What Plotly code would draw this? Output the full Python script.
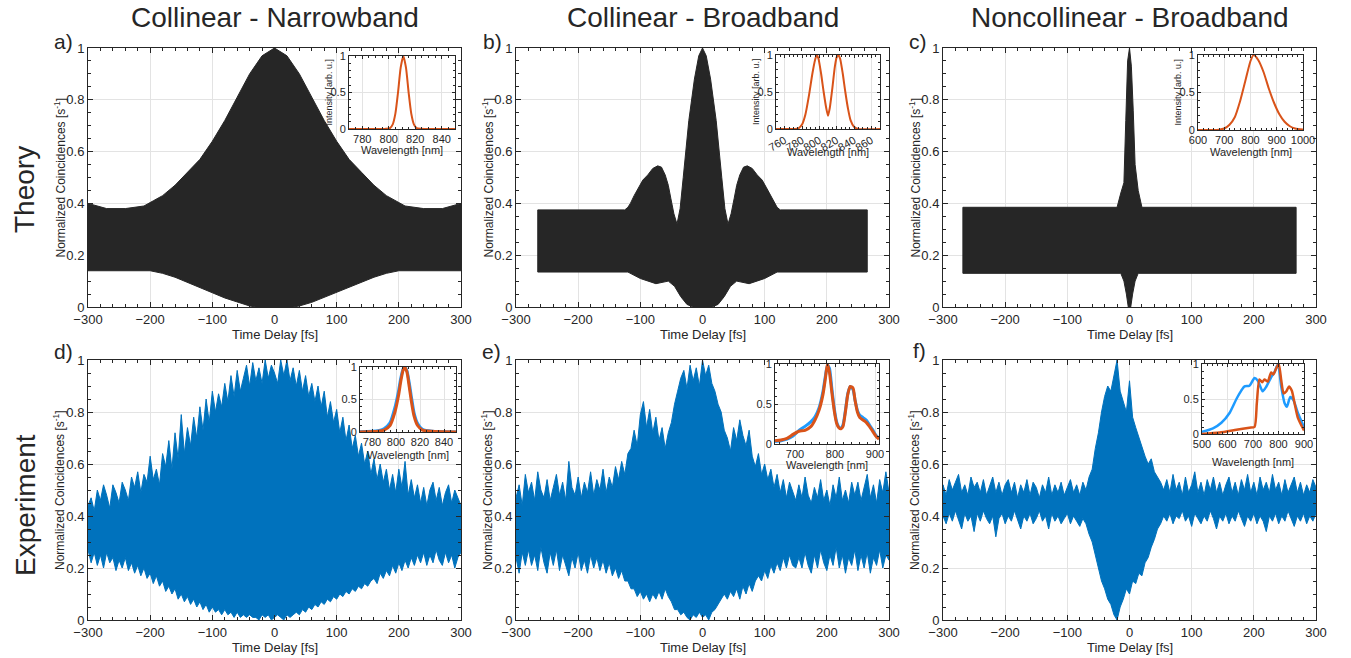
import numpy as np
import plotly.graph_objects as go

W, H = 1351, 658
FONT = "Liberation Sans, Arial, sans-serif"
INK = "#262626"
BLACK_TRACE = "#262626"
EXP_BLUE = "#0072BD"
SPEC_BLUE = "#1E9BFF"
SPEC_ORANGE = "#D95319"

# ---------------- Theory (envelopes of the interference band) ----------------
a_t_up = [-300, -270, -240, -210, -195, -180, -160, -140, -120, -100, -80, -60, -40, -20, 0,
          20, 40, 60, 80, 100, 120, 140, 160, 180, 195, 210, 240, 270, 300]
a_up = [0.40, 0.38, 0.38, 0.39, 0.41, 0.43, 0.47, 0.52, 0.57, 0.64, 0.72, 0.81, 0.90, 0.97, 1.00,
        0.97, 0.90, 0.81, 0.72, 0.64, 0.57, 0.52, 0.47, 0.43, 0.41, 0.39, 0.38, 0.38, 0.40]
a_t_lo = [-300, -200, -180, -160, -140, -120, -100, -80, -60, -40, -30, 0, 30, 40, 60, 80, 100,
          120, 140, 160, 180, 200, 300]
a_lo = [0.14, 0.14, 0.13, 0.115, 0.095, 0.075, 0.055, 0.035, 0.018, 0.004, 0.0, 0.0, 0.0, 0.004,
        0.018, 0.035, 0.055, 0.075, 0.095, 0.115, 0.13, 0.14, 0.14]

b_t_up = [-265, -125, -120, -116, -110, -103, -96, -88, -80, -72, -66, -60, -55, -51, -46, -41,
          -36, -31, -22, -13, -6, 0, 6, 13, 22, 31, 36, 41, 46, 51, 55, 60, 66, 72, 80, 88, 96,
          103, 110, 116, 120, 125, 265]
b_up = [0.375, 0.375, 0.385, 0.40, 0.43, 0.46, 0.49, 0.51, 0.535, 0.545, 0.54, 0.51, 0.47, 0.42,
        0.36, 0.32, 0.38, 0.50, 0.72, 0.88, 0.97, 1.00, 0.97, 0.88, 0.72, 0.50, 0.38, 0.32, 0.36,
        0.42, 0.47, 0.51, 0.54, 0.545, 0.535, 0.51, 0.49, 0.46, 0.43, 0.40, 0.385, 0.375, 0.375]
b_t_lo = [-265, -120, -100, -75, -55, -45, -35, -25, -15, 0, 15, 25, 35, 45, 55, 75, 100, 120, 265]
b_lo = [0.135, 0.135, 0.11, 0.09, 0.10, 0.08, 0.04, 0.01, 0.0, 0.0, 0.0, 0.01, 0.04, 0.08, 0.10,
        0.09, 0.11, 0.135, 0.135]

c_t_up = [-268, -20, -14, -9, -6, -3, 0, 3, 6, 9, 14, 20, 268]
c_up = [0.385, 0.385, 0.44, 0.48, 0.72, 0.95, 1.00, 0.93, 0.76, 0.55, 0.45, 0.385, 0.385]
c_t_lo = [-268, -14, -9, -5, -2, 0, 2, 5, 9, 14, 268]
c_lo = [0.13, 0.13, 0.10, 0.05, 0.0, 0.0, 0.0, 0.05, 0.10, 0.13, 0.13]

# ---------------- Experiment (upper / lower extremes every 5 fs) ----------------
t_exp = list(range(-300, 301, 5))

d_hi = [0.44, 0.47, 0.42, 0.50, 0.46, 0.52, 0.48, 0.43, 0.52, 0.49,
        0.45, 0.53, 0.50, 0.46, 0.55, 0.51, 0.57, 0.49, 0.56, 0.53,
        0.63, 0.54, 0.58, 0.52, 0.64, 0.59, 0.69, 0.58, 0.72, 0.62,
        0.79, 0.64, 0.74, 0.67, 0.78, 0.70, 0.82, 0.73, 0.85, 0.76,
        0.88, 0.80, 0.87, 0.82, 0.91, 0.84, 0.94, 0.86, 0.96, 0.88,
        0.93, 0.98, 0.90, 0.99, 0.92, 0.97, 0.91, 1.00, 0.93, 0.98,
        0.95, 0.91, 1.00, 0.94, 1.00, 0.92, 0.97, 0.90, 0.96, 0.88,
        0.94, 0.86, 0.91, 0.84, 0.90, 0.82, 0.88, 0.78, 0.84, 0.76,
        0.81, 0.72, 0.78, 0.69, 0.75, 0.66, 0.71, 0.63, 0.68, 0.60,
        0.65, 0.56, 0.62, 0.54, 0.60, 0.53, 0.58, 0.50, 0.56, 0.49,
        0.58, 0.51, 0.61, 0.48, 0.54, 0.47, 0.52, 0.45, 0.51, 0.44,
        0.50, 0.53, 0.46, 0.51, 0.44, 0.49, 0.52, 0.45, 0.50, 0.47,
        0.44]
d_lo = [0.27, 0.22, 0.26, 0.21, 0.25, 0.20, 0.26, 0.22, 0.24, 0.19,
        0.23, 0.20, 0.24, 0.19, 0.22, 0.18, 0.21, 0.17, 0.20, 0.16,
        0.18, 0.14, 0.17, 0.13, 0.15, 0.11, 0.13, 0.10, 0.12, 0.08,
        0.10, 0.07, 0.09, 0.06, 0.08, 0.05, 0.07, 0.04, 0.06, 0.03,
        0.05, 0.03, 0.04, 0.02, 0.04, 0.02, 0.03, 0.01, 0.03, 0.01,
        0.02, 0.01, 0.02, 0.01, 0.01, 0.00, 0.02, 0.01, 0.02, 0.00,
        0.01, 0.02, 0.01, 0.00, 0.02, 0.01, 0.02, 0.03, 0.02, 0.04,
        0.03, 0.05, 0.04, 0.06, 0.05, 0.07, 0.06, 0.08, 0.07, 0.09,
        0.08, 0.10, 0.09, 0.11, 0.10, 0.12, 0.11, 0.13, 0.12, 0.14,
        0.13, 0.15, 0.16, 0.14, 0.18, 0.16, 0.19, 0.17, 0.21, 0.18,
        0.22, 0.19, 0.23, 0.20, 0.24, 0.21, 0.25, 0.22, 0.26, 0.21,
        0.25, 0.22, 0.27, 0.23, 0.21, 0.26, 0.22, 0.25, 0.20, 0.24,
        0.26]

e_hi = [0.47, 0.52, 0.44, 0.56, 0.49, 0.53, 0.46, 0.57, 0.50, 0.47,
        0.54, 0.46, 0.51, 0.56, 0.48, 0.53, 0.46, 0.61, 0.51, 0.48,
        0.55, 0.47, 0.53, 0.49, 0.57, 0.48, 0.54, 0.50, 0.58, 0.49,
        0.55, 0.51, 0.59, 0.54, 0.61, 0.56, 0.64, 0.66, 0.73, 0.67,
        0.79, 0.84, 0.74, 0.81, 0.72, 0.78, 0.69, 0.74, 0.66, 0.72,
        0.76, 0.83, 0.88, 0.93, 0.96, 0.89, 0.98, 0.92, 0.97, 0.90,
        1.00, 0.94, 0.98, 0.91, 0.88, 0.83, 0.80, 0.73, 0.70, 0.65,
        0.74, 0.69, 0.77, 0.71, 0.67, 0.73, 0.63, 0.59, 0.64, 0.56,
        0.60, 0.54, 0.58, 0.51, 0.56, 0.49, 0.54, 0.47, 0.53, 0.49,
        0.46, 0.52, 0.47, 0.55, 0.48, 0.45, 0.51, 0.47, 0.54, 0.46,
        0.50, 0.44, 0.52, 0.47, 0.55, 0.46, 0.50, 0.45, 0.53, 0.48,
        0.53, 0.46, 0.51, 0.56, 0.47, 0.52, 0.45, 0.54, 0.49, 0.57,
        0.49]
e_lo = [0.24, 0.18, 0.26, 0.21, 0.27, 0.21, 0.25, 0.19, 0.28, 0.22,
        0.18, 0.26, 0.21, 0.27, 0.19, 0.25, 0.21, 0.17, 0.24, 0.20,
        0.26, 0.19, 0.23, 0.18, 0.25, 0.20, 0.24, 0.19, 0.23, 0.18,
        0.22, 0.17, 0.20, 0.16, 0.19, 0.15, 0.15, 0.12, 0.12, 0.09,
        0.11, 0.08, 0.10, 0.07, 0.10, 0.08, 0.11, 0.08, 0.12, 0.09,
        0.07, 0.04, 0.04, 0.02, 0.03, 0.01, 0.00, 0.02, 0.01, 0.03,
        0.01, 0.02, 0.00, 0.03, 0.04, 0.06, 0.08, 0.10, 0.08, 0.11,
        0.09, 0.12, 0.08, 0.13, 0.10, 0.14, 0.11, 0.15, 0.17, 0.15,
        0.19, 0.16, 0.21, 0.18, 0.22, 0.19, 0.24, 0.20, 0.25, 0.21,
        0.20, 0.24, 0.20, 0.26, 0.21, 0.18, 0.25, 0.20, 0.27, 0.22,
        0.19, 0.25, 0.21, 0.28, 0.20, 0.25, 0.18, 0.24, 0.21, 0.27,
        0.19, 0.25, 0.20, 0.26, 0.18, 0.24, 0.21, 0.27, 0.20, 0.25,
        0.23]

f_hi = [0.52, 0.48, 0.54, 0.50, 0.53, 0.56, 0.49, 0.52, 0.48, 0.55,
        0.51, 0.53, 0.49, 0.54, 0.48, 0.52, 0.55, 0.49, 0.53, 0.48,
        0.52, 0.54, 0.49, 0.53, 0.47, 0.52, 0.49, 0.54, 0.48, 0.53,
        0.51, 0.47, 0.52, 0.49, 0.55, 0.48, 0.52, 0.49, 0.53, 0.48,
        0.51, 0.54, 0.49, 0.52, 0.48, 0.53, 0.50, 0.55, 0.58, 0.66,
        0.72, 0.80, 0.86, 0.90, 0.88, 0.94, 1.00, 0.88, 0.84, 0.80,
        0.92, 0.78, 0.74, 0.70, 0.66, 0.63, 0.60, 0.62, 0.57, 0.55,
        0.53, 0.50, 0.54, 0.49, 0.56, 0.50, 0.53, 0.48, 0.55, 0.49,
        0.52, 0.57, 0.49, 0.53, 0.48, 0.54, 0.50, 0.55, 0.49, 0.53,
        0.48, 0.52, 0.55, 0.49, 0.53, 0.48, 0.54, 0.50, 0.56, 0.49,
        0.53, 0.48, 0.55, 0.50, 0.53, 0.49, 0.56, 0.50, 0.53, 0.48,
        0.54, 0.49, 0.52, 0.55, 0.49, 0.53, 0.48, 0.52, 0.49, 0.54,
        0.51]
f_lo = [0.40, 0.37, 0.41, 0.38, 0.42, 0.39, 0.35, 0.41, 0.38, 0.40,
        0.34, 0.41, 0.38, 0.42, 0.39, 0.37, 0.40, 0.32, 0.39, 0.41,
        0.37, 0.40, 0.38, 0.42, 0.39, 0.35, 0.40, 0.38, 0.41, 0.37,
        0.39, 0.42, 0.38, 0.40, 0.35, 0.41, 0.38, 0.40, 0.37, 0.39,
        0.41, 0.37, 0.40, 0.38, 0.36, 0.39, 0.37, 0.33, 0.30, 0.25,
        0.20, 0.15, 0.12, 0.08, 0.06, 0.02, 0.00, 0.05, 0.08, 0.12,
        0.10, 0.15, 0.14, 0.18, 0.17, 0.22, 0.24, 0.28, 0.31, 0.35,
        0.37, 0.40, 0.38, 0.41, 0.37, 0.40, 0.39, 0.42, 0.38, 0.40,
        0.36, 0.41, 0.39, 0.37, 0.40, 0.38, 0.42, 0.39, 0.35, 0.40,
        0.38, 0.41, 0.37, 0.40, 0.38, 0.42, 0.39, 0.36, 0.40, 0.38,
        0.41, 0.37, 0.40, 0.38, 0.34, 0.40, 0.38, 0.41, 0.37, 0.40,
        0.38, 0.42, 0.39, 0.36, 0.40, 0.38, 0.41, 0.37, 0.40, 0.38,
        0.41]

# ---------------- Spectra (insets) ----------------
sa_wl = [770, 795, 798, 801, 803, 805, 807, 809, 811, 813, 815, 817, 819, 821, 824, 827, 850]
sa_I = [0.0, 0.0, 0.003, 0.013, 0.063, 0.21, 0.50, 0.84, 1.0, 0.84, 0.50, 0.21, 0.063, 0.013, 0.002, 0.0, 0.0]

sb_wl = [750, 772, 776, 780, 784, 788, 792, 795, 797, 799, 802, 805, 808, 810, 812, 815, 818, 820,
         822, 824, 827, 830, 833, 836, 840, 845, 870]
sb_I = [0.0, 0.0, 0.01, 0.06, 0.20, 0.45, 0.75, 0.93, 1.0, 0.95, 0.75, 0.50, 0.28, 0.18, 0.28, 0.55,
        0.85, 0.97, 1.0, 0.95, 0.75, 0.50, 0.28, 0.12, 0.03, 0.0, 0.0]

sc_wl = [600, 680, 700, 720, 740, 760, 780, 800, 812, 830, 850, 870, 890, 910, 930, 950, 970, 1000]
sc_I = [0.0, 0.005, 0.02, 0.07, 0.17, 0.38, 0.65, 0.92, 1.0, 0.93, 0.77, 0.55, 0.36, 0.21, 0.11,
        0.05, 0.02, 0.005]

sd_wl = [770, 785, 790, 795, 799, 802, 804, 806, 807, 809, 811, 813, 815, 818, 822, 830, 850]
sd_orange = [0.0, 0.01, 0.03, 0.10, 0.30, 0.55, 0.78, 0.96, 1.0, 0.93, 0.70, 0.45, 0.25, 0.10, 0.03, 0.01, 0.0]
sd_blue = [0.005, 0.02, 0.05, 0.14, 0.37, 0.62, 0.83, 0.97, 1.0, 0.95, 0.76, 0.52, 0.30, 0.13, 0.04, 0.01, 0.0]

se_wl = [650, 665, 680, 695, 710, 725, 740, 750, 760, 770, 776, 781, 786, 792, 798, 804, 810, 815,
         820, 826, 832, 838, 845, 850, 856, 862, 870, 878, 886, 894, 902, 910]
se_orange = [0.04, 0.05, 0.07, 0.12, 0.16, 0.17, 0.22, 0.30, 0.42, 0.62, 0.82, 1.0, 0.90, 0.65,
             0.42, 0.26, 0.20, 0.19, 0.22, 0.40, 0.62, 0.72, 0.70, 0.55, 0.40, 0.33, 0.30, 0.27,
             0.22, 0.16, 0.10, 0.06]
se_blue = [0.03, 0.04, 0.06, 0.10, 0.17, 0.22, 0.28, 0.34, 0.45, 0.66, 0.85, 0.98, 0.95, 0.70,
           0.45, 0.28, 0.21, 0.20, 0.24, 0.42, 0.63, 0.72, 0.68, 0.55, 0.42, 0.36, 0.33, 0.30,
           0.24, 0.18, 0.11, 0.07]

sf_wl_blue = [500, 543, 576, 608, 635, 654, 667, 686, 706, 719, 738, 751, 771, 784, 798, 811, 824,
              833, 846, 859, 876, 900]
sf_blue = [0.03, 0.08, 0.16, 0.30, 0.50, 0.62, 0.68, 0.69, 0.80, 0.76, 0.61, 0.67, 0.81, 0.88,
           1.0, 0.67, 0.44, 0.39, 0.53, 0.48, 0.30, 0.10]
sf_wl_orange = [500, 569, 635, 686, 706, 715, 725, 736, 745, 758, 771, 780, 791, 801, 811, 820,
                831, 841, 852, 863, 876, 900]
sf_orange = [0.0, 0.02, 0.06, 0.09, 0.10, 0.44, 0.78, 0.74, 0.78, 0.75, 0.88, 0.85, 0.94, 1.0,
             0.76, 0.58, 0.61, 0.68, 0.62, 0.44, 0.23, 0.05]

col_titles = ["Collinear - Narrowband", "Collinear - Broadband", "Noncollinear - Broadband"]
row_titles = ["Theory", "Experiment"]
panel_letters = ["a)", "b)", "c)", "d)", "e)", "f)"]
x_title = "Time Delay [fs]"
y_title = "Normalized Coincidences [s<sup>-1</sup>]"
inset_x_title = "Wavelength [nm]"
inset_y_title = "Intensity [arb. u.]"

# ---------------- Layout geometry (pixels) ----------------
main_x = [(88, 461), (516, 889), (943, 1316)]
main_y = [(48, 307), (360, 620)]
inset_box = [(349, 455, 56, 129), (776, 880, 55, 129), (1198, 1303, 55, 130),
             (360, 456, 367, 432), (775, 879, 364, 444), (1202, 1304, 364, 434)]
inset_xtitle_y = [150, 152, 152, 455, 465, 462]


def dom_x(x0, x1):
    return [x0 / W, x1 / W]


def dom_y(y0, y1):
    return [(H - y1) / H, (H - y0) / H]


fig = go.Figure()


def band(xu, yu, xl, yl, color, ax):
    xs = list(xu) + list(xl)[::-1] + [xu[0]]
    ys = list(yu) + list(yl)[::-1] + [yu[0]]
    fig.add_trace(go.Scatter(x=xs, y=ys, mode="lines", fill="toself", fillcolor=color,
                             line=dict(color=color, width=1), xaxis="x" + ax, yaxis="y" + ax,
                             hoverinfo="skip", showlegend=False))


band(a_t_up, a_up, a_t_lo, a_lo, BLACK_TRACE, "")
band(b_t_up, b_up, b_t_lo, b_lo, BLACK_TRACE, "2")
band(c_t_up, c_up, c_t_lo, c_lo, BLACK_TRACE, "3")
band(t_exp, d_hi, t_exp, d_lo, EXP_BLUE, "4")
band(t_exp, e_hi, t_exp, e_lo, EXP_BLUE, "5")
band(t_exp, f_hi, t_exp, f_lo, EXP_BLUE, "6")


def spec(x, y, color, width, ax):
    fig.add_trace(go.Scatter(x=x, y=y, mode="lines",
                             line=dict(color=color, width=width, shape="spline", smoothing=0.6),
                             xaxis="x" + ax, yaxis="y" + ax, hoverinfo="skip", showlegend=False))


spec(sa_wl, sa_I, SPEC_ORANGE, 2, "7")
spec(sb_wl, sb_I, SPEC_ORANGE, 2, "8")
spec(sc_wl, sc_I, SPEC_ORANGE, 2, "9")
spec(sd_wl, sd_blue, SPEC_BLUE, 3, "10")
spec(sd_wl, sd_orange, SPEC_ORANGE, 3, "10")
spec(se_wl, se_blue, SPEC_BLUE, 3, "11")
spec(se_wl, se_orange, SPEC_ORANGE, 3, "11")
spec(sf_wl_blue, sf_blue, SPEC_BLUE, 2.5, "12")
spec(sf_wl_orange, sf_orange, SPEC_ORANGE, 2.5, "12")


def axis_common(fs, ticklen):
    return dict(showline=True, linecolor=INK, linewidth=1, mirror="allticks", ticks="inside",
                ticklen=ticklen, tickwidth=1, tickcolor=INK, showgrid=True, gridcolor="#e3e3e3",
                gridwidth=1, zeroline=False, automargin=False,
                tickfont=dict(family=FONT, size=fs, color=INK))


layout = dict(width=W, height=H, margin=dict(l=0, r=0, t=0, b=0, pad=0, autoexpand=False),
              paper_bgcolor="white", plot_bgcolor="white", showlegend=False,
              font=dict(family=FONT, color=INK))

ann = []


def text(t, x, y, size, angle=0):
    ann.append(dict(text=t, x=x / W, y=1 - y / H, xref="paper", yref="paper", showarrow=False,
                    textangle=angle, xanchor="center", yanchor="middle",
                    font=dict(family=FONT, size=size, color=INK)))


k = 0
for r in range(2):
    for c in range(3):
        k += 1
        sx = "" if k == 1 else str(k)
        xa = axis_common(13, 5)
        xa.update(domain=dom_x(*main_x[c]), range=[-300, 300], tick0=0, dtick=100, anchor="y" + sx,
                  minor=dict(ticks="inside", ticklen=3, tickcolor=INK, dtick=20, showgrid=False))
        ya = axis_common(13, 5)
        ya.update(domain=dom_y(*main_y[r]), range=[0, 1], tick0=0, dtick=0.2, anchor="x" + sx,
                  minor=dict(ticks="inside", ticklen=3, tickcolor=INK, dtick=0.05, showgrid=False))
        layout["xaxis" + sx] = xa
        layout["yaxis" + sx] = ya
        cx = (main_x[c][0] + main_x[c][1]) / 2
        cy = (main_y[r][0] + main_y[r][1]) / 2
        text(x_title, cx, main_y[r][1] + 27, 13)
        text(y_title, main_x[c][0] - 29, cy, 12, -90)

inset_x_cfg = [
    dict(range=[770, 850], dtick=20, minor=5, angle=0),
    dict(range=[750, 870], dtick=20, minor=5, angle=-30),
    dict(range=[600, 1000], dtick=100, minor=20, angle=0),
    dict(range=[770, 850], dtick=20, minor=5, angle=0),
    dict(range=[650, 910], dtick=100, minor=20, angle=0),
    dict(range=[500, 900], dtick=100, minor=20, angle=0),
]
for i in range(6):
    n = str(7 + i)
    x0, x1, y0, y1 = inset_box[i]
    cfg = inset_x_cfg[i]
    xa = axis_common(11, 3)
    xa.update(domain=dom_x(x0, x1), range=cfg["range"], tick0=0, dtick=cfg["dtick"], anchor="y" + n,
              tickangle=cfg["angle"],
              minor=dict(ticks="inside", ticklen=2, tickcolor=INK, dtick=cfg["minor"], showgrid=False))
    ya = axis_common(11, 3)
    ya.update(domain=dom_y(y0, y1), range=[0, 1], tick0=0, dtick=0.5, anchor="x" + n,
              minor=dict(ticks="inside", ticklen=2, tickcolor=INK, dtick=0.1, showgrid=False))
    layout["xaxis" + n] = xa
    layout["yaxis" + n] = ya
    text(inset_x_title, (x0 + x1) / 2, inset_xtitle_y[i], 11)
    if i < 3:
        text(inset_y_title, x0 - 20, (y0 + y1) / 2, 9, -90)

for c in range(3):
    text(col_titles[c], (main_x[c][0] + main_x[c][1]) / 2, 17, 28)
row_centers = [190, 505]
for r in range(2):
    text(row_titles[r], 25, row_centers[r], 28, -90)
letter_pos = [(63, 41), (492, 41), (918, 41), (63, 351), (491, 351), (919, 350)]
for i in range(6):
    text(panel_letters[i], letter_pos[i][0], letter_pos[i][1], 21)

layout["annotations"] = ann
fig.update_layout(**layout)
fig.write_html("out.html")
